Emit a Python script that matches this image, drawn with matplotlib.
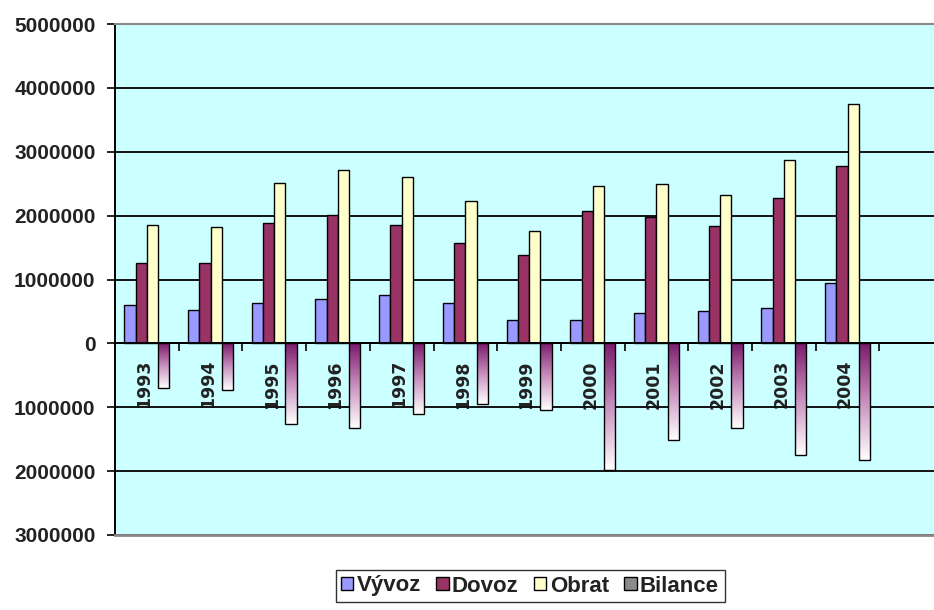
import numpy as np
import matplotlib
matplotlib.use("Agg")
import matplotlib.pyplot as plt
from matplotlib.colors import LinearSegmentedColormap
from matplotlib.patches import Patch
from matplotlib.ticker import FuncFormatter, MultipleLocator, FixedLocator

years = ["1993", "1994", "1995", "1996", "1997", "1998", "1999",
         "2000", "2001", "2002", "2003", "2004"]
vyvoz = [600000, 530000, 630000, 690000, 760000, 630000, 370000,
         370000, 470000, 500000, 560000, 940000]
dovoz = [1260000, 1260000, 1890000, 2010000, 1860000, 1570000, 1390000,
         2080000, 1980000, 1830000, 2270000, 2770000]
obrat = [1850000, 1820000, 2510000, 2710000, 2610000, 2230000, 1760000,
         2460000, 2490000, 2330000, 2870000, 3750000]
bilance = [-700000, -730000, -1260000, -1330000, -1100000, -950000, -1050000,
           -1980000, -1520000, -1330000, -1740000, -1820000]
series_names = ["Vývoz", "Dovoz", "Obrat", "Bilance"]

W, H = 934, 610
fig = plt.figure(figsize=(W / 100, H / 100), dpi=100)
fig.patch.set_facecolor("white")
ax = fig.add_axes([115 / W, 1 - 535 / H, (934 - 115) / W, (535 - 24) / H])
ax.set_facecolor("#CCFFFF")

x = np.arange(len(years))
bw = 0.177
offs = [-0.265, -0.088, 0.088, 0.265]
ax.bar(x + offs[0], vyvoz, bw, color="#9999FF", edgecolor="black", linewidth=1.0, zorder=3)
ax.bar(x + offs[1], dovoz, bw, color="#993366", edgecolor="black", linewidth=1.0, zorder=3)
ax.bar(x + offs[2], obrat, bw, color="#FFFFCC", edgecolor="black", linewidth=1.0, zorder=3)

cmap = LinearSegmentedColormap.from_list("bil", ["#7A1A6C", "#C890BE", "#FFFFFF"])
grad = np.linspace(0, 1, 256).reshape(-1, 1)
for xi, v in zip(x, bilance):
    x0 = xi + offs[3] - bw / 2
    ax.imshow(grad, cmap=cmap, extent=(x0, x0 + bw, v, 0), origin="upper",
              aspect="auto", zorder=3, interpolation="bilinear")
ax.bar(x + offs[3], bilance, bw, facecolor="none", edgecolor="black", linewidth=1.0, zorder=4)

ax.set_xlim(-0.5, -0.5 + (934 - 115) / 63.7)
ax.set_ylim(-3000000, 5000000)
ax.set_aspect("auto")

# y axis
ax.yaxis.set_major_locator(MultipleLocator(1000000))
ax.yaxis.set_major_formatter(FuncFormatter(lambda v, p: f"{abs(int(round(v)))}"))
ax.grid(axis="y", color="#111111", linewidth=1.4, zorder=1)
ax.set_axisbelow(True)
ax.tick_params(axis="y", direction="out", length=6, width=1.2, pad=8, colors="black")
for lab in ax.get_yticklabels():
    lab.set_fontfamily("Liberation Sans")
    lab.set_fontweight("bold")
    lab.set_fontsize(15)
    lab.set_color("#222222")

# x axis on zero line
ax.spines["bottom"].set_position(("data", 0))
ax.spines["bottom"].set_color("black")
ax.spines["bottom"].set_linewidth(1.4)
ax.spines["bottom"].set_zorder(5)
ax.spines["right"].set_visible(False)
ax.spines["top"].set_color("#888888")
ax.spines["top"].set_linewidth(1.5)
ax.spines["left"].set_color("black")
ax.spines["left"].set_linewidth(1.4)
ax.axhline(-3000000, color="#888888", linewidth=2.0, clip_on=False, zorder=5)

ax.xaxis.set_major_locator(FixedLocator(np.arange(len(years)) + 0.5))
ax.xaxis.set_major_formatter(FuncFormatter(lambda v, p: ""))
ax.xaxis.set_minor_locator(FixedLocator(x - 0.04))
ax.set_xticklabels(years, minor=True)
ax.tick_params(axis="x", which="major", direction="out", length=6, width=1.2, colors="black")
ax.tick_params(axis="x", which="minor", length=0, pad=12)
for lab in ax.get_xticklabels(minor=True):
    lab.set_rotation(90)
    lab.set_fontfamily("DejaVu Sans")
    lab.set_fontweight("bold")
    lab.set_fontsize(12.5)
    lab.set_va("top")
    lab.set_ha("center")
    lab.set_color("#222222")

handles = [
    Patch(facecolor="#9999FF", edgecolor="black", linewidth=1.0),
    Patch(facecolor="#993366", edgecolor="black", linewidth=1.0),
    Patch(facecolor="#FFFFCC", edgecolor="black", linewidth=1.0),
    Patch(facecolor="#8C8C8C", edgecolor="black", linewidth=1.0),
]
leg = fig.legend(handles, series_names, loc="center", ncol=4,
                 bbox_to_anchor=(530 / W, 1 - 586 / H),
                 prop={"family": "Liberation Sans", "weight": "bold", "size": 16},
                 handlelength=0.55, handleheight=0.55, handletextpad=0.15,
                 columnspacing=0.7, borderpad=0.25, frameon=True, fancybox=False)
leg.get_frame().set_edgecolor("black")
leg.get_frame().set_linewidth(1.0)
for t in leg.get_texts():
    t.set_color("#222222")

fig.savefig("out.png", dpi=100, facecolor="white")
